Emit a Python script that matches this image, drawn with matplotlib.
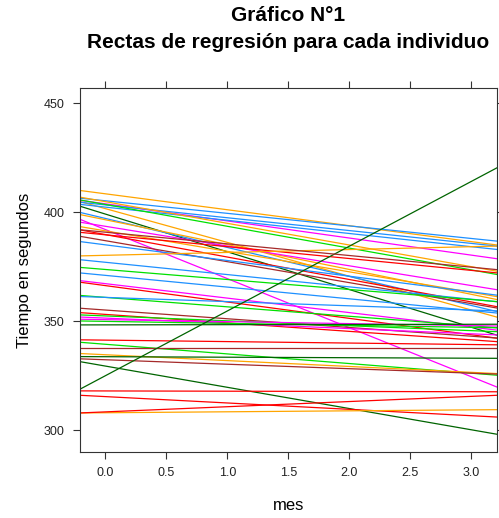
import matplotlib
matplotlib.use("Agg")
import matplotlib.pyplot as plt
import numpy as np

plt.rcParams["font.family"] = ["Liberation Sans", "DejaVu Sans"]

# regression line per individual: intercept (mes = 0) and slope
intercepts = [408.5, 401.7, 405.3, 403.9, 403.4, 402.4, 399.2, 403.6, 404.9, 397.2,
              396.6, 392.1, 393.6, 391.5, 389.8, 387.0, 389.7, 385.1, 380.3, 377.1,
              373.8, 371.1, 367.3, 366.4, 361.0, 361.0, 355.2, 353.2, 352.5, 351.5,
              350.8, 350.0, 348.4, 341.4, 339.5, 337.6, 334.7, 333.8, 332.4, 329.5,
              325.1, 318.1, 315.5, 308.1, 308.5, 390.9]
slopes = [-7.31, -15.5, -5.76, -7.84, -5.88, -6.05, -17.3, -10.0, -9.94, -13.3,
          -11.4, -22.5, -9.06, -9.39, -10.3, -9.62, -5.44, -7.19, 1.32, -5.64,
          -4.59, -5.38, -6.64, -7.51, -4.33, -1.93, -4.0, -3.89, -2.25, -2.4,
          -0.91, -0.91, 0.09, -0.67, -4.42, 0.0, -2.69, -0.23, -2.05, -9.74,
          29.7, -0.12, -2.92, 0.44, 2.37, -5.35]
colores = ["orange", "orange", "dodgerblue", "magenta", "dodgerblue", "dodgerblue",
           "darkgreen", "#00e000", "orange", "dodgerblue", "orange", "magenta",
           "magenta", "orange", "red", "brown", "red", "dodgerblue", "orange",
           "dodgerblue", "#00e000", "dodgerblue", "magenta", "red", "#00e000",
           "dodgerblue", "brown", "red", "#00e000", "magenta", "magenta", "#00e000",
           "darkgreen", "red", "#00e000", "brown", "orange", "darkgreen", "brown",
           "darkgreen", "darkgreen", "red", "red", "orange", "red", "brown"]

x_ticks = [0.0, 0.5, 1.0, 1.5, 2.0, 2.5, 3.0]
y_ticks = [300, 350, 400, 450]

xmin, xmax = -0.21, 3.21
xs = np.array([xmin, xmax])

fig = plt.figure(figsize=(4.99, 5.18), dpi=100)
ax = fig.add_axes([0.160, 0.127, 0.836, 0.703])

for b0, b1, c in zip(intercepts, slopes, colores):
    ax.plot(xs, b0 + b1 * xs, color=c, lw=0.9)

ax.set_xlim(xmin, xmax)
ax.set_ylim(290, 457)
ax.set_xticks(x_ticks)
ax.set_xticklabels([f"{t:.1f}" for t in x_ticks])
ax.set_yticks(y_ticks)
ax.tick_params(direction="out", length=5, width=0.8, color="#333333",
               labelsize=9, labelcolor="#222222", pad=6,
               top=True, right=True, labeltop=False, labelright=False)
for s in ax.spines.values():
    s.set_color("#333333")
    s.set_linewidth(0.8)

ax.set_xlabel("mes", fontsize=12, labelpad=13)
ax.set_ylabel("Tiempo en segundos", fontsize=12, labelpad=8)

fig.text(0.578, 0.970, "Gráfico N°1", ha="center", va="center",
         fontsize=15, fontweight="bold")
fig.text(0.578, 0.918, "Rectas de regresión para cada individuo", ha="center",
         va="center", fontsize=15, fontweight="bold")

fig.savefig("out.png", dpi=100)
